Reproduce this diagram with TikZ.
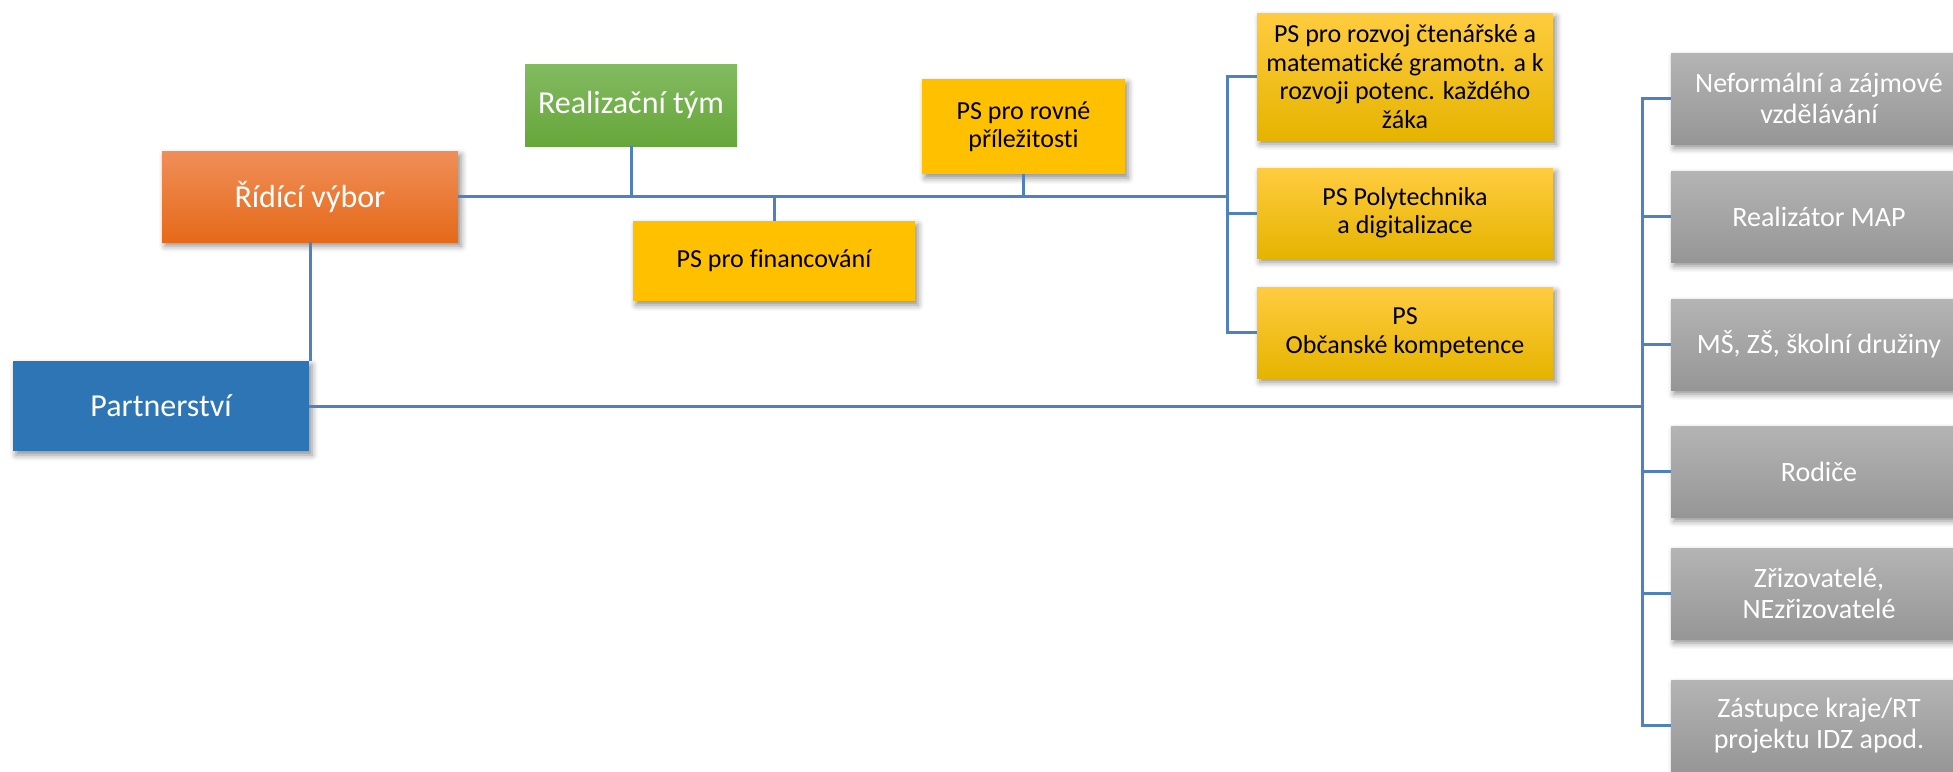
\documentclass[tikz,border=0pt]{standalone}
\usepackage{fontspec}
\setmainfont{Carlito}[Ligatures={NoCommon}]
\usetikzlibrary{shadows.blur}
\definecolor{lineblue}{RGB}{79,129,189}
\definecolor{partblue}{RGB}{46,117,182}
\definecolor{orT}{RGB}{240,142,88}
\definecolor{orM}{RGB}{243,125,40}
\definecolor{orB}{RGB}{229,106,25}
\definecolor{grT}{RGB}{131,187,97}
\definecolor{grB}{RGB}{102,166,58}
\definecolor{yel}{RGB}{255,192,0}
\definecolor{yeT}{RGB}{255,204,64}
\definecolor{yeB}{RGB}{229,180,0}
\definecolor{gyT}{RGB}{180,180,180}
\definecolor{gyM}{RGB}{166,166,166}
\definecolor{gyB}{RGB}{150,150,150}
\tikzset{
  sh/.style={blur shadow={shadow xshift=1.5pt,shadow yshift=-2pt,shadow blur radius=3pt,shadow opacity=45}},
  basebox/.style={inner sep=0pt,align=center,draw=none},
  bigbox/.style={basebox,font=\fontsize{16}{17.5}\selectfont,text=white},
  orbox/.style={bigbox,sh,top color=orT,middle color=orM,bottom color=orB},
  grnbox/.style={bigbox,top color=grT,bottom color=grB},
  bluebox/.style={bigbox,sh,fill=partblue},
  yelbox/.style={basebox,sh,fill=yel,text=black,font=\fontsize{13}{14.2}\selectfont},
  yelgbox/.style={basebox,sh,top color=yeT,middle color=yel,bottom color=yeB,text=black,font=\fontsize{13}{14.2}\selectfont,minimum width=148pt},
  greybox/.style={basebox,sh,top color=gyT,middle color=gyM,bottom color=gyB,text=white,font=\fontsize{14}{15.5}\selectfont,minimum width=148pt,minimum height=45.5pt},
  conn/.style={draw=lineblue,line width=1.5pt}
}
\begin{document}
\begin{tikzpicture}[x=0.5pt,y=-0.5pt]
\useasboundingbox (0,0) rectangle (1953,771);
% nodes
\node[orbox,minimum width=148pt,minimum height=45.5pt] (rid) at (310,196.5) {Řídící výbor};
\node[grnbox,minimum width=106pt,minimum height=41pt] (real) at (631,105) {Realizační tým};
\node[yelbox,minimum width=101.5pt,minimum height=47.5pt] (rovne) at (1023.5,126.5) {PS pro rovné\\příležitosti};
\node[yelbox,minimum width=141pt,minimum height=40pt] (fin) at (774,261) {PS pro financování};
\node[yelgbox,minimum height=63.5pt] (ps1) at (1405,76.5) {PS pro rozvoj čtenářské a\\matematické gramotn. a k\\rozvoji potenc. každého\\žáka};
\node[yelgbox,minimum height=45pt] (ps2) at (1405,213) {PS Polytechnika\\a digitalizace};
\node[yelgbox,minimum height=45.5pt] (ps3) at (1405,332.5) {PS\\Občanské kompetence};
\node[bluebox,minimum width=148pt,minimum height=45pt] (part) at (161,406) {Partnerství};
\node[greybox] (g1) at (1819,98.5) {Neformální a zájmové\\vzdělávání};
\node[greybox] (g2) at (1819,216.5) {Realizátor MAP};
\node[greybox] (g3) at (1819,344.5) {MŠ, ZŠ, školní družiny};
\node[greybox] (g4) at (1819,471.5) {Rodiče};
\node[greybox] (g5) at (1819,593.5) {Zřizovatelé,\\NEzřizovatelé};
\node[greybox] (g6) at (1819,725.5) {Zástupce kraje/RT\\projektu IDZ apod.};
% junctions
\coordinate (jA) at (1227,196.5);
\coordinate (jB) at (1642,406);
% connectors
\draw[conn] (rid.east) -- (jA);
\draw[conn] (real.south) -- (real.south |- rid.east);
\draw[conn] (rovne.south) -- (rovne.south |- rid.east);
\draw[conn] (fin.north) -- (fin.north |- rid.east);
\draw[conn] (jA) |- (ps1.west);
\draw[conn] (jA) |- (ps2.west);
\draw[conn] (jA) |- (ps3.west);
\draw[conn] (rid.south) -- (rid.south |- part.north);
\draw[conn] (part.east) -- (jB);
\draw[conn] (jB) |- (g1.west);
\draw[conn] (jB) |- (g2.west);
\draw[conn] (jB) |- (g3.west);
\draw[conn] (jB) |- (g4.west);
\draw[conn] (jB) |- (g5.west);
\draw[conn] (jB) |- (g6.west);
\end{tikzpicture}
\end{document}
